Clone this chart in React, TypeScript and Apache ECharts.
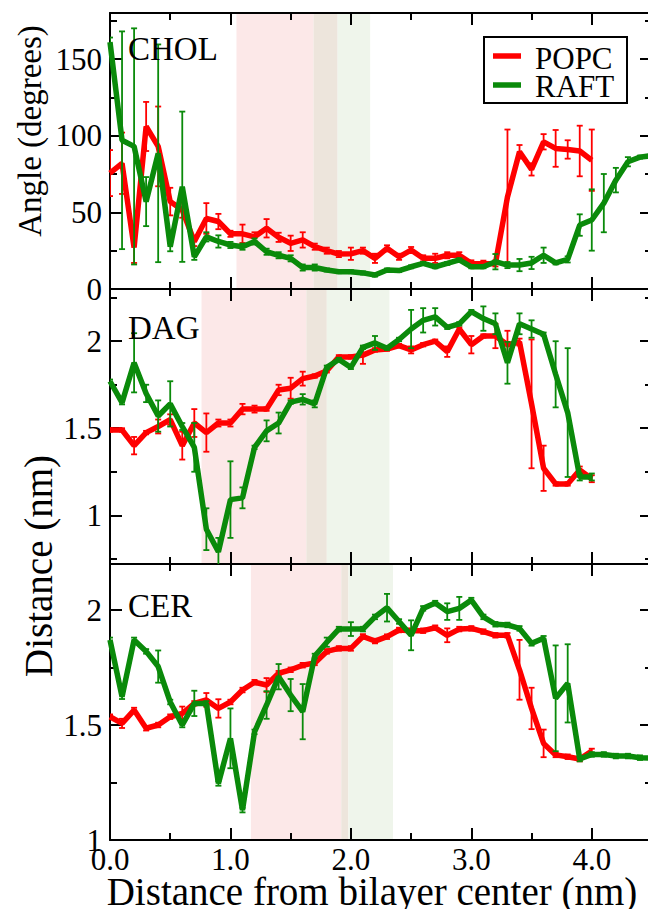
import React, { useEffect, useRef } from "react";
import * as echarts from "echarts";

// ---------- data ----------
const xs = [0, 0.1, 0.2, 0.3, 0.4, 0.5, 0.6, 0.7, 0.8, 0.9, 1.0, 1.1, 1.2, 1.3, 1.4, 1.5, 1.6, 1.7, 1.8, 1.9,
  2.0, 2.1, 2.2, 2.3, 2.4, 2.5, 2.6, 2.7, 2.8, 2.9, 3.0, 3.1, 3.2, 3.3, 3.4, 3.5, 3.6, 3.7, 3.8, 3.9,
  4.0, 4.1, 4.2, 4.3, 4.4, 4.5];

const xMajor = [0, 1, 2, 3, 4];
const xMinor = [0.5, 1.5, 2.5, 3.5];

const seriesNames = ["POPC", "RAFT"];
const panelNames = ["CHOL", "DAG", "CER"];

const cholPopc = [75.6, 82, 27, 106, 93, 57, 51.5, 31, 46, 44,
  36, 36, 34, 39.6, 33.7, 29.8, 32, 27.6, 25, 22.8,
  23, 25, 20, 26.5, 21, 25.4, 20, 20, 22, 22,
  16.7, 16.5, 16.7, 60, 89.5, 78, 96, 91.7, 91, 90,
  84];
const cholPopcErr = [15, 20, 10, 16, 26, 9, 5, 3, 10, 5,
  2, 6, 3, 6, 3, 5, 5, 2, 2, 2,
  4, 2, 3, 2, 2, 2, 2, 3, 2, 2,
  2, 2, 2, 44, 4.4, 4, 5, 12, 6, 16.5,
  20];
const cholRaft = [161, 97, 93, 57, 88.5, 27.6, 66.7, 21, 34, 31,
  28.7, 27.6, 31, 24.3, 22, 20, 14, 14, 12.4, 11.3,
  11.3, 10.5, 9.1, 12.4, 12, 14.5, 16.7, 14.5, 16.7, 19,
  14.5, 14.5, 17.8, 15.6, 15.6, 17, 22, 17, 19.3, 41.7,
  45, 56, 71, 83, 86, 87];
const cholRaftErr = [3, 71, 77, 16, 71, 3, 49, 2, 3, 4,
  2, 2, 2, 2, 2, 2, 2, 2, 1, 1,
  1, 1, 1, 1, 1, 1, 1, 1, 1, 1,
  1, 1, 5, 2, 4, 4, 5, 1, 2, 7,
  20, 19, 8, 3, 1, 1];

const dagPopc = [1.49, 1.49, 1.40, 1.475, 1.51, 1.55, 1.40, 1.53, 1.475, 1.53,
  1.53, 1.61, 1.61, 1.61, 1.72, 1.73, 1.785, 1.80, 1.83, 1.91,
  1.91, 1.92, 1.95, 1.955, 1.975, 1.95, 1.98, 2.0, 1.94, 2.07,
  1.98, 2.03, 2.03, 1.98, 1.995, 1.64, 1.27, 1.18, 1.18, 1.26,
  1.21];
const dagPopcErr = [0.01, 0.01, 0.05, 0.01, 0.04, 0.03, 0.08, 0.08, 0.11, 0.02,
  0.02, 0.03, 0.02, 0.01, 0.03, 0.06, 0.04, 0.01, 0.01, 0.01,
  0.01, 0.05, 0.01, 0.01, 0.01, 0.02, 0.01, 0.01, 0.03, 0.01,
  0.05, 0.01, 0.07, 0.08, 0.02, 0.37, 0.13, 0.01, 0.01, 0.02,
  0.02];
const dagRaft = [1.77, 1.647, 1.876, 1.70, 1.57, 1.64, 1.51, 1.39, 0.92, 0.79,
  1.09, 1.10, 1.39, 1.485, 1.53, 1.65, 1.666, 1.64, 1.85, 1.895,
  1.85, 1.965, 1.99, 1.96, 2.01, 2.07, 2.12, 2.14, 2.08, 2.10,
  2.17, 2.13, 2.10, 1.876, 2.10, 2.07, 2.04, 1.81, 1.59, 1.22,
  1.22];
const dagRaftErr = [0.01, 0.01, 0.17, 0.05, 0.09, 0.13, 0.02, 0.14, 0.12, 0.08,
  0.22, 0.06, 0.01, 0.06, 0.06, 0.01, 0.03, 0.02, 0.01, 0.01,
  0.01, 0.01, 0.04, 0.01, 0.01, 0.11, 0.07, 0.05, 0.01, 0.01,
  0.01, 0.07, 0.06, 0.12, 0.06, 0.05, 0.01, 0.19, 0.37, 0.02,
  0.02];

const cerPopc = [1.536, 1.507, 1.565, 1.486, 1.50, 1.536, 1.55, 1.594, 1.609, 1.572,
  1.60, 1.652, 1.686, 1.674, 1.725, 1.74, 1.76, 1.77, 1.82, 1.833,
  1.833, 1.885, 1.865, 1.884, 1.913, 1.91, 1.91, 1.923, 1.89, 1.917,
  1.92, 1.906, 1.89, 1.89, 1.74, 1.572, 1.42, 1.37, 1.362, 1.352,
  1.387];
const cerPopcErr = [0.01, 0.02, 0.01, 0.01, 0.01, 0.01, 0.03, 0.01, 0.03, 0.04,
  0.01, 0.01, 0.01, 0.03, 0.01, 0.01, 0.01, 0.01, 0.01, 0.01,
  0.01, 0.01, 0.01, 0.01, 0.01, 0.01, 0.01, 0.01, 0.03, 0.01,
  0.01, 0.01, 0.01, 0.01, 0.13, 0.09, 0.06, 0.01, 0.01, 0.01,
  0.01];
const cerRaft = [1.87, 1.623, 1.87, 1.82, 1.754, 1.60, 1.50, 1.594, 1.594, 1.246,
  1.442, 1.13, 1.47, 1.587, 1.71, 1.63, 1.558, 1.80, 1.86, 1.917,
  1.917, 1.917, 1.97, 2.01, 1.95, 1.89, 2.007, 2.03, 1.993, 2.007,
  2.043, 1.97, 1.938, 1.935, 1.92, 1.855, 1.877, 1.616, 1.681, 1.352,
  1.372, 1.372, 1.365, 1.365, 1.358, 1.356];
const cerRaftErr = [0.01, 0.01, 0.01, 0.01, 0.07, 0.01, 0.01, 0.055, 0.01, 0.01,
  0.13, 0.01, 0.01, 0.06, 0.055, 0.07, 0.12, 0.01, 0.02, 0.01,
  0.03, 0.01, 0.01, 0.06, 0.01, 0.065, 0.01, 0.01, 0.036, 0.05,
  0.01, 0.01, 0.01, 0.01, 0.01, 0.01, 0.01, 0.23, 0.17, 0.01,
  0.01, 0.01, 0.01, 0.01, 0.01, 0.01];

// shaded ranges (x, nm)
const cholPink = [1.05, 1.89];
const cholGreen = [1.69, 2.16];
const dagPink = [0.76, 1.8];
const dagGreen = [1.63, 2.32];
const cerPink = [1.17, 1.98];
const cerGreen = [1.92, 2.35];

// y axes
const cholRange = [0, 180];
const cholMajor = [0, 50, 100, 150];
const cholMinor = [25, 75, 125, 175];
const dagRange = [0.72, 2.3];
const dagMajor = [1, 1.5, 2];
const dagMinor = [0.75, 1.25, 1.75, 2.25];
const cerRange = [1, 2.2];
const cerMajor = [1, 1.5, 2];
const cerMinor = [1.25, 1.75];

const xTitle = "Distance from bilayer center (nm)";
const yTitleAngle = "Angle (degrees)";
const yTitleDist = "Distance (nm)";

// ---------- styles ----------
const FONT = "'Liberation Serif', 'Times New Roman', Times, serif";
const RED = "#ff0000";
const GREEN = "#0a8a0a";
const BAND_COLORS = ["#fce8e8", "#ede5dc", "#eff5eb"];
const GRID_LEFT = 110;
const GRID_W = 542;
const gridBoxes = [
  { top: 13, height: 276 },
  { top: 289, height: 275 },
  { top: 564, height: 276 },
];

const panels = [
  { name: panelNames[0], popc: cholPopc, popcErr: cholPopcErr, raft: cholRaft, raftErr: cholRaftErr,
    pink: cholPink, green: cholGreen, range: cholRange, major: cholMajor, minor: cholMinor, labelY: 49 },
  { name: panelNames[1], popc: dagPopc, popcErr: dagPopcErr, raft: dagRaft, raftErr: dagRaftErr,
    pink: dagPink, green: dagGreen, range: dagRange, major: dagMajor, minor: dagMinor, labelY: 328 },
  { name: panelNames[2], popc: cerPopc, popcErr: cerPopcErr, raft: cerRaft, raftErr: cerRaftErr,
    pink: cerPink, green: cerGreen, range: cerRange, major: cerMajor, minor: cerMinor, labelY: 606 },
];

function buildOption() {
  const grid: any[] = [];
  const xAxis: any[] = [];
  const yAxis: any[] = [];
  const series: any[] = [];

  panels.forEach((p, g) => {
    grid.push({ left: GRID_LEFT, width: GRID_W, top: gridBoxes[g].top, height: gridBoxes[g].height, containLabel: false });

    const mkX = (pos: string, vals: number[], len: number, labels: boolean, line: boolean) => ({
      type: "value", gridIndex: g, min: 0, max: 4.5, position: pos,
      axisLine: { show: line, onZero: false, lineStyle: { color: "#000", width: 2 } },
      axisTick: { show: true, inside: true, length: len, customValues: vals, lineStyle: { color: "#000", width: 2 } },
      axisLabel: {
        show: labels, customValues: vals, formatter: (v: number) => Number(v).toFixed(1),
        fontFamily: FONT, fontSize: 31, color: "#000", margin: 4,
      },
      splitLine: { show: false }, minorTick: { show: false },
    });
    xAxis.push(
      mkX("bottom", xMajor, 12, g === 2, true),
      mkX("bottom", xMinor, 7, false, false),
      mkX("top", xMajor, 12, false, true),
      mkX("top", xMinor, 7, false, false),
    );

    const mkY = (pos: string, vals: number[], len: number, labels: boolean, line: boolean) => ({
      type: "value", gridIndex: g, min: p.range[0], max: p.range[1], position: pos,
      axisLine: { show: line, onZero: false, lineStyle: { color: "#000", width: 2 } },
      axisTick: { show: true, inside: true, length: len, customValues: vals, lineStyle: { color: "#000", width: 2 } },
      axisLabel: {
        show: labels, customValues: vals, formatter: (v: number) => String(v),
        fontFamily: FONT, fontSize: 31, color: "#000", margin: 8,
      },
      splitLine: { show: false }, minorTick: { show: false },
    });
    yAxis.push(
      mkY("left", p.major, 12, true, true),
      mkY("left", p.minor, 7, false, false),
      mkY("right", p.major, 12, false, true),
      mkY("right", p.minor, 7, false, false),
    );

    const xi = g * 4;
    const yi = g * 4;
    const yMid = (p.range[0] + p.range[1]) / 2;
    const bandData = [
      [p.pink[0], p.green[0], 0, yMid],
      [p.green[0], p.pink[1], 1, yMid],
      [p.pink[1], p.green[1], 2, yMid],
    ];
    series.push({
      type: "custom", xAxisIndex: xi, yAxisIndex: yi, silent: true, z: 0, clip: true,
      encode: { x: [0, 1], y: 3 },
      data: bandData,
      renderItem: (params: any, api: any) => {
        const cs = params.coordSys;
        const x0 = api.coord([api.value(0), api.value(3)])[0];
        const x1 = api.coord([api.value(1), api.value(3)])[0];
        return {
          type: "rect",
          shape: { x: x0, y: cs.y, width: x1 - x0, height: cs.height },
          style: { fill: BAND_COLORS[api.value(2)] },
        };
      },
    });

    const addSet = (name: string, vals: number[], errs: number[], color: string, z: number) => {
      const errData = vals.map((v, i) => [xs[i], v, errs[i]]);
      series.push({
        type: "custom", xAxisIndex: xi, yAxisIndex: yi, silent: true, z, clip: true,
        encode: { x: 0, y: 1 },
        data: errData,
        renderItem: (_params: any, api: any) => {
          const x = api.value(0), y = api.value(1), e = api.value(2);
          const t = api.coord([x, y + e]);
          const b = api.coord([x, y - e]);
          const c = 3;
          const st = { stroke: color, lineWidth: 1.8 };
          return {
            type: "group",
            children: [
              { type: "line", shape: { x1: t[0], y1: t[1], x2: b[0], y2: b[1] }, style: st },
              { type: "line", shape: { x1: t[0] - c, y1: t[1], x2: t[0] + c, y2: t[1] }, style: st },
              { type: "line", shape: { x1: b[0] - c, y1: b[1], x2: b[0] + c, y2: b[1] }, style: st },
            ],
          };
        },
      });
      series.push({
        type: "line", name, xAxisIndex: xi, yAxisIndex: yi, z: z + 1, silent: true, clip: true,
        data: vals.map((v, i) => [xs[i], v]),
        showSymbol: false, symbol: "none",
        lineStyle: { color, width: 5.5 }, itemStyle: { color },
      });
    };
    addSet(seriesNames[0], p.popc, p.popcErr, RED, 2);
    addSet(seriesNames[1], p.raft, p.raftErr, GREEN, 4);
  });

  const graphic: any[] = [];
  panels.forEach((p) => {
    graphic.push({
      type: "text", x: 128, y: p.labelY, z: 50,
      style: { text: p.name, fontFamily: FONT, fontSize: 33, fill: "#000", textAlign: "left", textVerticalAlign: "middle" },
    });
  });
  graphic.push(
    {
      type: "text", x: 372, y: 891, z: 50,
      style: { text: xTitle, fontFamily: FONT, fontSize: 39, fill: "#000", textAlign: "center", textVerticalAlign: "middle" },
    },
    {
      type: "text", x: 30, y: 131, rotation: Math.PI / 2, z: 50,
      style: { text: yTitleAngle, fontFamily: FONT, fontSize: 33, fill: "#000", textAlign: "center", textVerticalAlign: "middle" },
    },
    {
      type: "text", x: 38, y: 566, rotation: Math.PI / 2, z: 50,
      style: { text: yTitleDist, fontFamily: FONT, fontSize: 39, fill: "#000", textAlign: "center", textVerticalAlign: "middle" },
    },
    // legend
    {
      type: "rect", z: 40, shape: { x: 484, y: 37, width: 143, height: 66 },
      style: { fill: "#fff", stroke: "#000", lineWidth: 2 },
    },
    {
      type: "line", z: 41, shape: { x1: 493, y1: 56, x2: 521, y2: 56 },
      style: { stroke: RED, lineWidth: 5.5 },
    },
    {
      type: "line", z: 41, shape: { x1: 493, y1: 85, x2: 521, y2: 85 },
      style: { stroke: GREEN, lineWidth: 5.5 },
    },
    {
      type: "text", x: 535, y: 58, z: 41,
      style: { text: seriesNames[0], fontFamily: FONT, fontSize: 31, fill: "#000", textAlign: "left", textVerticalAlign: "middle" },
    },
    {
      type: "text", x: 535, y: 86, z: 41,
      style: { text: seriesNames[1], fontFamily: FONT, fontSize: 31, fill: "#000", textAlign: "left", textVerticalAlign: "middle" },
    },
  );

  return {
    animation: false,
    backgroundColor: "#fff",
    grid,
    xAxis,
    yAxis,
    series,
    graphic,
  };
}

export default function App() {
  const ref = useRef<HTMLDivElement>(null);
  useEffect(() => {
    if (!ref.current) return;
    const chart = echarts.init(ref.current, null, { renderer: "svg" });
    chart.setOption(buildOption() as any);
    return () => chart.dispose();
  }, []);
  return (
    <div style={{ position: "fixed", left: 0, top: 0, width: 648, height: 909, overflow: "hidden", background: "#fff" }}>
      <div ref={ref} style={{ width: 660, height: 909 }} />
    </div>
  );
}
